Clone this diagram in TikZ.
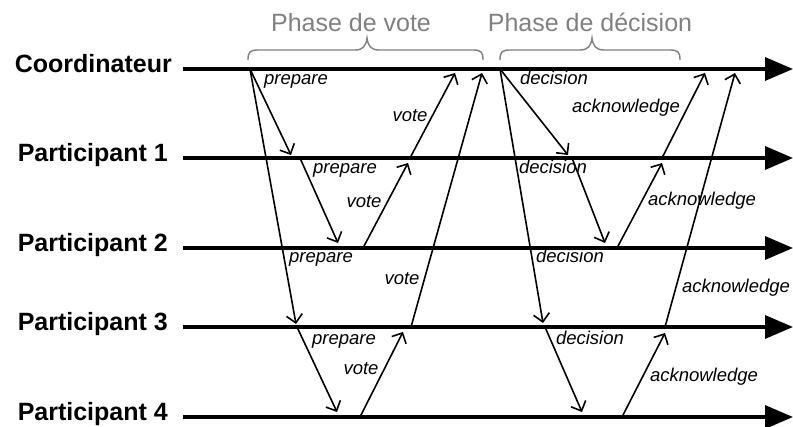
\documentclass[tikz,border=0pt]{standalone}
\usepackage{fontspec}
\setmainfont{Liberation Sans}
\usetikzlibrary{arrows.meta}
\definecolor{phasegray}{RGB}{128,128,128}
\begin{document}
\begin{tikzpicture}[x=1pt,y=-1pt,
  timeline/.style={line width=3.5pt,-{Triangle[length=28pt,width=23pt]}},
  msg/.style={line width=1.6pt,-{Straight Barb[length=8pt,width=16pt,line width=1.6pt]}},
  who/.style={font=\fontsize{25}{28}\selectfont\bfseries,anchor=mid east,inner sep=0pt},
  lbl/.style={font=\fontsize{18.5}{21}\selectfont\itshape,inner sep=0pt,anchor=mid},
  phase/.style={font=\fontsize{25}{29}\selectfont,text=phasegray,inner sep=0pt,anchor=base},
  bracepath/.style={draw=phasegray,line width=1.4pt}
]
\useasboundingbox (0,0) rectangle (793,427);

% timelines
\foreach \n/\y in {c/69,p1/158,p2/248,p3/327,p4/417}{
  \coordinate (\n s) at (183,\y);
  \coordinate (\n e) at (793,\y);
}
\node[who] (lc) at (172,70) {Coordinateur};
\node[who] (lp1) at (168,159) {Participant 1};
\node[who] (lp2) at (168,249) {Participant 2};
\node[who] (lp3) at (168,328) {Participant 3};
\node[who] (lp4) at (168,418) {Participant 4};
\foreach \n in {c,p1,p2,p3,p4}{
  \draw[timeline] (\n s) -- (\n e);
}

% phase braces
\draw[bracepath] (248,60) .. controls (248,52) and (250,50) .. (258,50) -- (355,50)
  .. controls (363,50) and (366,46) .. (367,38) .. controls (368,46) and (371,50) .. (379,50)
  -- (473,50) .. controls (481,50) and (483,52) .. (483,60);
\draw[bracepath] (500,60) .. controls (500,52) and (502,50) .. (510,50) -- (580,50)
  .. controls (588,50) and (591,46) .. (592,38) .. controls (593,46) and (596,50) .. (604,50)
  -- (670,50) .. controls (678,50) and (680,52) .. (680,60);
\node[phase] (phv) at (351,32) {Phase de vote};
\node[phase] (phd) at (590,32) {Phase de décision};

% vote phase coordinates
\coordinate (pc0) at (250,69);
\coordinate (pc1) at (291,155);
\coordinate (pc3) at (296,324);
\coordinate (p12s) at (300,158);
\coordinate (p12e) at (338,243);
\coordinate (p34s) at (297,327);
\coordinate (p34e) at (337,412);
\coordinate (v21s) at (363,248);
\coordinate (v21e) at (408,163);
\coordinate (v1cs) at (410,158);
\coordinate (v1ce) at (455,73);
\coordinate (v3cs) at (411,327);
\coordinate (v3ce) at (482,73);
\coordinate (v43s) at (360,417);
\coordinate (v43e) at (403,332);

\draw[msg] (pc0) -- (pc1);
\draw[msg] (pc0) -- (pc3);
\draw[msg] (p12s) -- (p12e);
\draw[msg] (p34s) -- (p34e);
\draw[msg] (v21s) -- (v21e);
\draw[msg] (v1cs) -- (v1ce);
\draw[msg] (v3cs) -- (v3ce);
\draw[msg] (v43s) -- (v43e);

% decision phase coordinates
\coordinate (dc0) at (500,69);
\coordinate (dc1) at (568,155);
\coordinate (dc3) at (543,323);
\coordinate (d12s) at (572,158);
\coordinate (d12e) at (605,243);
\coordinate (d34s) at (545,327);
\coordinate (d34e) at (582,412);
\coordinate (a21s) at (617,248);
\coordinate (a21e) at (662,163);
\coordinate (a1cs) at (662,158);
\coordinate (a1ce) at (705,73);
\coordinate (a3cs) at (665,327);
\coordinate (a3ce) at (735,73);
\coordinate (a43s) at (622,417);
\coordinate (a43e) at (665,333);

\draw[msg] (dc0) -- (dc1);
\draw[msg] (dc0) -- (dc3);
\draw[msg] (d12s) -- (d12e);
\draw[msg] (d34s) -- (d34e);
\draw[msg] (a21s) -- (a21e);
\draw[msg] (a1cs) -- (a1ce);
\draw[msg] (a3cs) -- (a3ce);
\draw[msg] (a43s) -- (a43e);

% labels
\node[lbl] (tp1) at (296,82) {prepare};
\node[lbl] (tp2) at (345,171) {prepare};
\node[lbl] (tp3) at (321,260) {prepare};
\node[lbl] (tp4) at (344,342) {prepare};
\node[lbl] (tv1) at (410,119) {vote};
\node[lbl] (tv2) at (364,205) {vote};
\node[lbl] (tv3) at (402,282) {vote};
\node[lbl] (tv4) at (361,372) {vote};
\node[lbl] (td1) at (554,82) {decision};
\node[lbl] (td2) at (553,171) {decision};
\node[lbl] (td3) at (570,260) {decision};
\node[lbl] (td4) at (590,342) {decision};
\node[lbl] (ta1) at (626,110) {acknowledge};
\node[lbl] (ta2) at (702,203) {acknowledge};
\node[lbl] (ta3) at (736,290) {acknowledge};
\node[lbl] (ta4) at (704,379) {acknowledge};
\end{tikzpicture}
\end{document}
